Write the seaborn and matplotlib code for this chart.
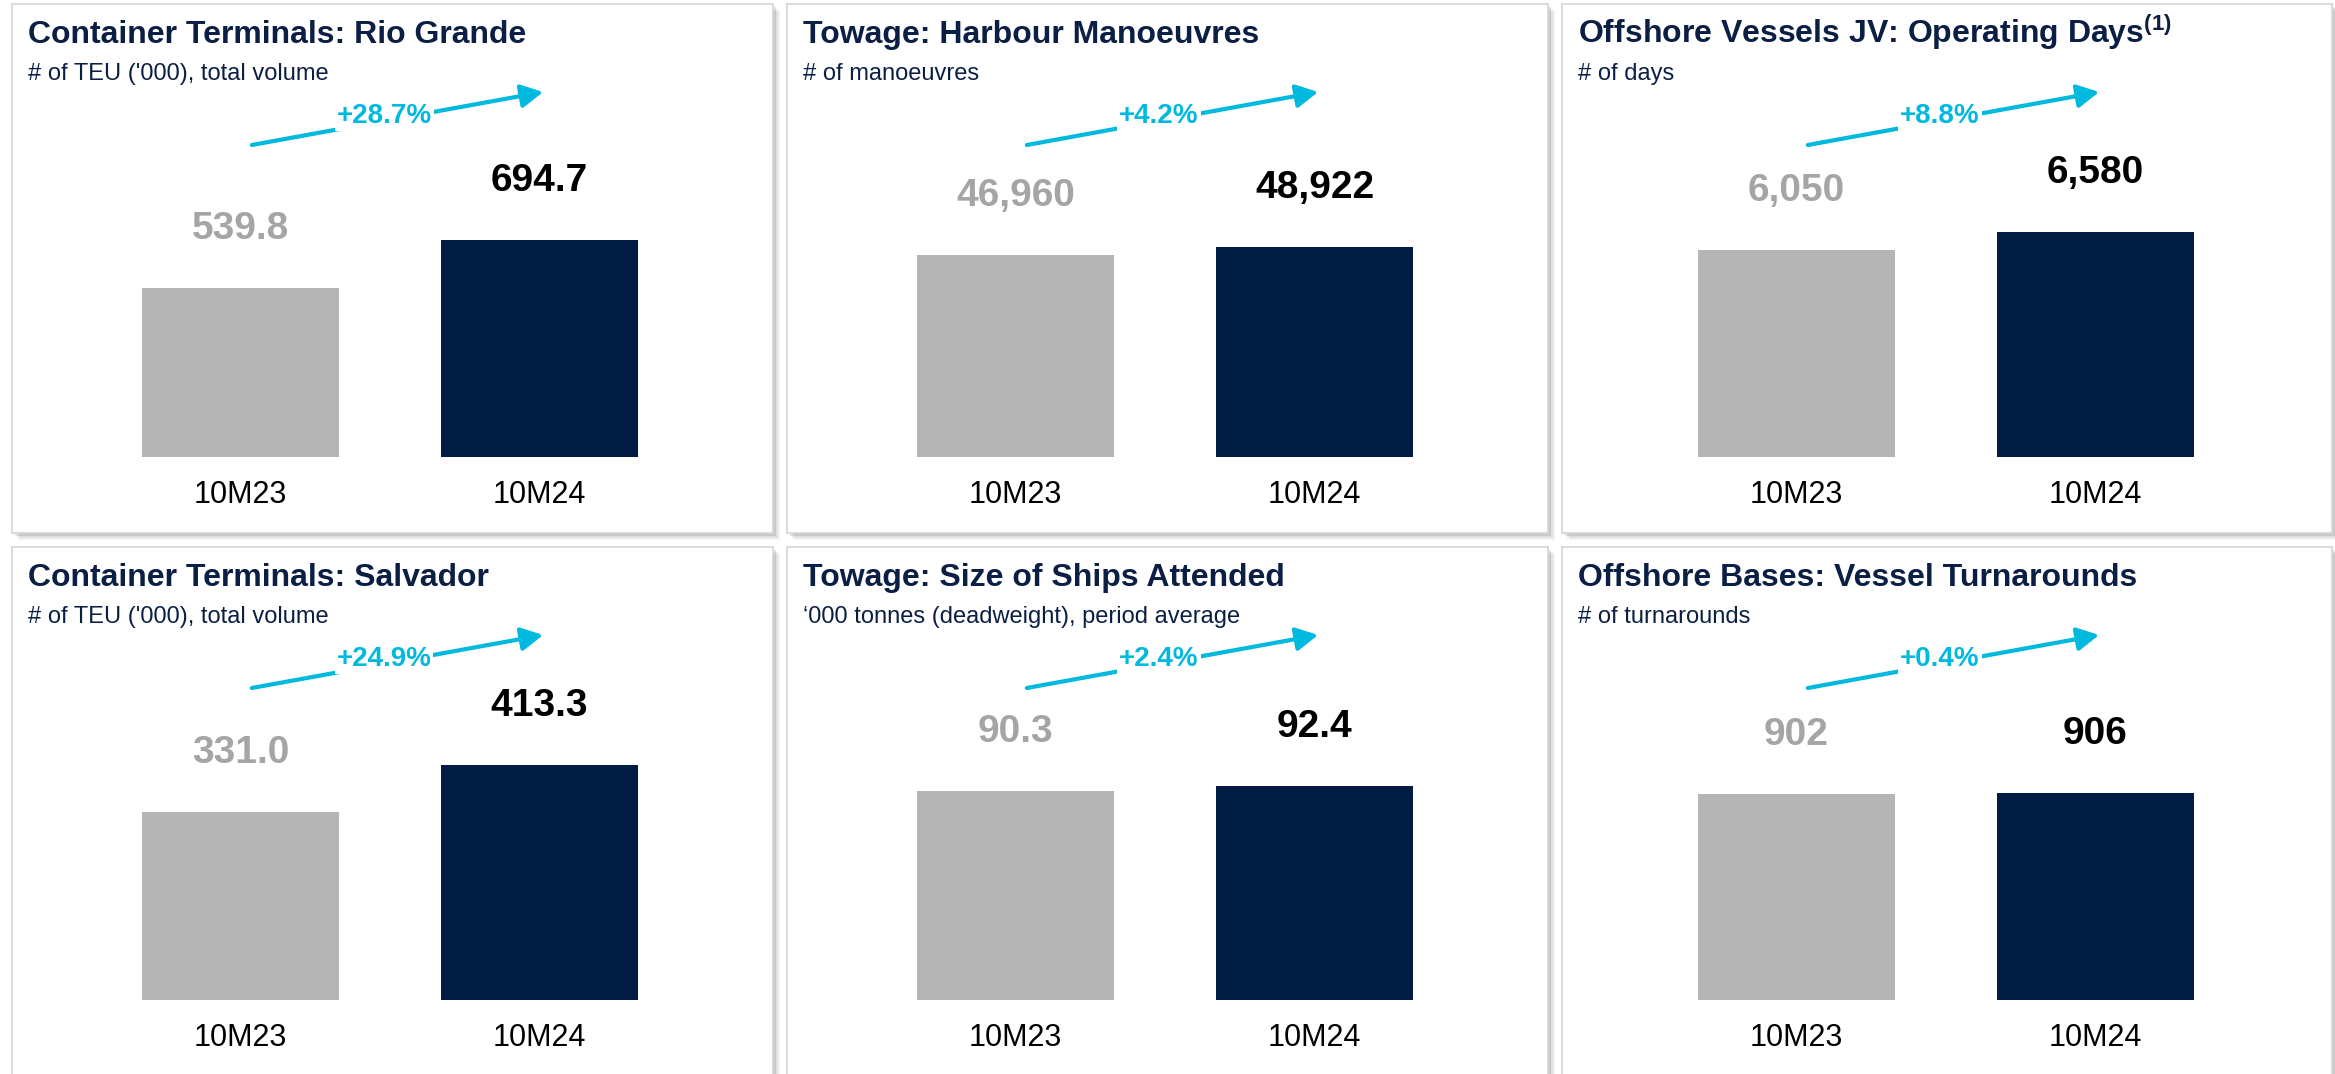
import numpy as np
import pandas as pd
import matplotlib
matplotlib.use('Agg')
import matplotlib.pyplot as plt
import matplotlib.transforms as mtransforms
from matplotlib.patches import Rectangle
import seaborn as sns

# ==========================================
# 数据
# ==========================================
periods = ['10M23', '10M24']
titles = [
    'Container Terminals: Rio Grande',
    'Towage: Harbour Manoeuvres',
    'Offshore Vessels JV: Operating Days$^{\\mathbf{(1)}}$',
    'Container Terminals: Salvador',
    'Towage: Size of Ships Attended',
    'Offshore Bases: Vessel Turnarounds',
]
subtitles = [
    "# of TEU ('000), total volume",
    '# of manoeuvres',
    '# of days',
    "# of TEU ('000), total volume",
    '\u2018000 tonnes (deadweight), period average',
    '# of turnarounds',
]
values_23 = [539.8, 46960, 6050, 331.0, 90.3, 902]
values_24 = [694.7, 48922, 6580, 413.3, 92.4, 906]
labels_23 = ['539.8', '46,960', '6,050', '331.0', '90.3', '902']
labels_24 = ['694.7', '48,922', '6,580', '413.3', '92.4', '906']
growth = ['+28.7%', '+4.2%', '+8.8%', '+24.9%', '+2.4%', '+0.4%']

# ==========================================
# 样式 / 版面 (像素)
# ==========================================
NAVY = '#001C42'
GRAY_BAR = '#B5B5B5'
GRAY_TXT = '#A5A5A5'
TITLE_C = '#0B1F45'
CYAN = '#00B9DF'

W, H = 2335, 1074
col_left = [12, 787, 1562]
col_right = [773, 1548, 2332]
gray_center = [240.5, 1015.5, 1796.5]
row_top = [4, 547]
card_h = 529
bar_step = 299
base_below_top = 453
navy_bar_px = [217, 210, 225, 235, 214, 207]   # 每个面板的纵向比例

sns.set_theme(style='white')
plt.rcParams['font.family'] = ['Liberation Sans', 'DejaVu Sans']
plt.rcParams['mathtext.fontset'] = 'custom'
plt.rcParams['mathtext.rm'] = 'Liberation Sans'
plt.rcParams['mathtext.bf'] = 'Liberation Sans:bold'

fig = plt.figure(figsize=(W / 100, H / 100), dpi=100)
fig.patch.set_facecolor('white')
PT = 72 / 100  # px -> pt

for k in range(6):
    r, c = divmod(k, 3)
    left, right = col_left[c], col_right[c]
    top = row_top[r]
    bottom = top + card_h
    cw = right - left

    # 卡片阴影
    for off, a in [(7, 0.05), (5, 0.07), (3, 0.10)]:
        fig.add_artist(Rectangle(((left + off) / W, 1 - (bottom + off) / H),
                                 cw / W, card_h / H, transform=fig.transFigure,
                                 facecolor='black', edgecolor='none', alpha=a, zorder=-1))

    ax = fig.add_axes([left / W, 1 - bottom / H, cw / W, card_h / H])
    df = pd.DataFrame({'period': periods, 'value': [values_23[k], values_24[k]]})
    sns.barplot(data=df, x='period', y='value', hue='period',
                palette=[GRAY_BAR, NAVY], width=197 / bar_step, saturation=1,
                linewidth=0, legend=False, ax=ax)

    gc = gray_center[c]
    ax.set_xlim((left - gc) / bar_step, (right - gc) / bar_step)
    u = values_24[k] / navy_bar_px[k]
    ax.set_ylim(-(card_h - base_below_top) * u, base_below_top * u)
    ax.set_xticks([])
    ax.set_yticks([])
    ax.set_xlabel('')
    ax.set_ylabel('')
    ax.set_facecolor('white')
    for s in ax.spines.values():
        s.set_color('#D6D6D6')
        s.set_linewidth(1.2)

    # 标题
    ax.text(16 / cw, 1 - 39 / card_h, titles[k], transform=ax.transAxes,
            fontsize=23, fontweight='bold', color=TITLE_C, va='baseline', ha='left')
    ax.text(16 / cw, 1 - 76 / card_h, subtitles[k], transform=ax.transAxes,
            fontsize=17, color=TITLE_C, va='baseline', ha='left')

    # 数值标签
    for i, (v, lab, col) in enumerate(zip([values_23[k], values_24[k]],
                                          [labels_23[k], labels_24[k]],
                                          [GRAY_TXT, 'black'])):
        ax.annotate(lab, xy=(i, v), xytext=(0, 49 * PT), textcoords='offset points',
                    ha='center', va='baseline', fontsize=28, fontweight='bold', color=col)
        ax.annotate(periods[i], xy=(i, 0), xytext=(0, -46 * PT), textcoords='offset points',
                    ha='center', va='baseline', fontsize=22, color='black')

    # 增长箭头
    ax.annotate('', xy=(1.012, 1 - 88 / card_h), xytext=(0.038, 1 - 141 / card_h),
                xycoords=('data', 'axes fraction'),
                arrowprops=dict(arrowstyle='-|>,head_length=0.6,head_width=0.32',
                                color=CYAN, lw=3, mutation_scale=22,
                                shrinkA=0, shrinkB=0))
    trans = mtransforms.blended_transform_factory(ax.transData, ax.transAxes)
    ax.text(0.48, 1 - 112 / card_h, growth[k], transform=trans, ha='center', va='center',
            fontsize=20, fontweight='bold', color=CYAN,
            bbox=dict(facecolor='white', edgecolor='none', pad=1.5), zorder=5)

fig.savefig('out.png', dpi=100)
